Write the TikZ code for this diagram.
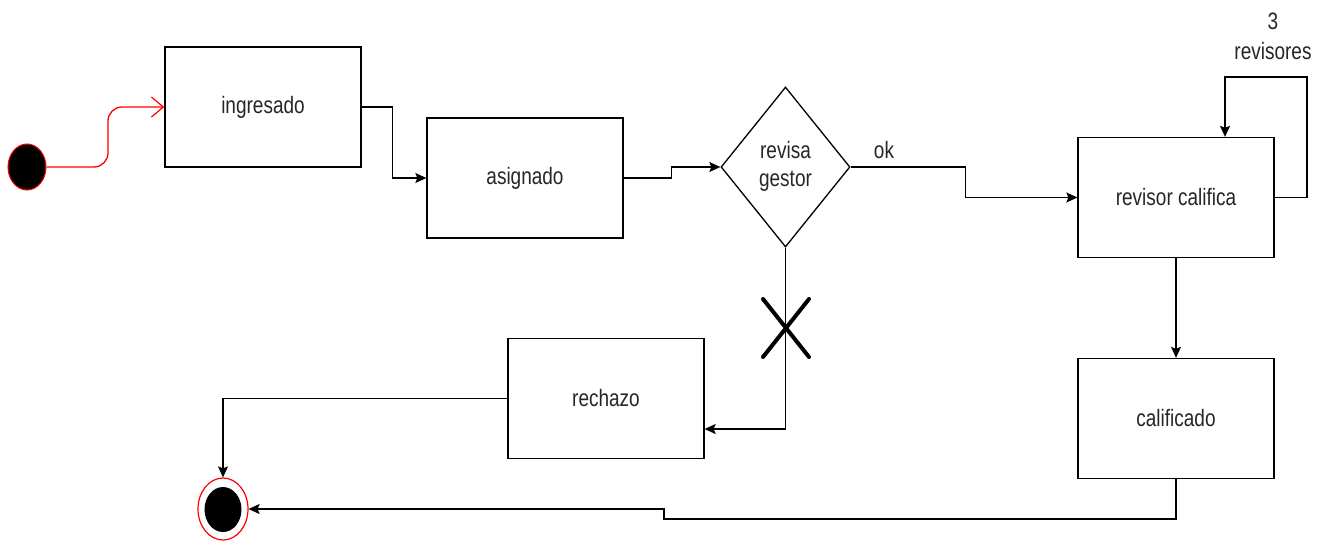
\documentclass[tikz,border=0pt]{standalone}
\usepackage{graphicx}
\usepackage{fontspec}
\setmainfont{Liberation Sans}
\usetikzlibrary{shapes.geometric,arrows.meta}
\newcommand{\vtxt}[1]{\scalebox{1}[1.25]{#1}}
\tikzset{
  statebox/.style={draw=black, line width=1.3pt, minimum width=196pt, minimum height=120pt, inner sep=0pt, text=black!85, font=\fontsize{19}{22.4}\selectfont},
  decision/.style={diamond, draw=black, line width=1.3pt, minimum width=129pt, minimum height=160pt, inner sep=0pt, text=black!85, font=\fontsize{19}{22.4}\selectfont},
  lbl/.style={text=black!85, font=\fontsize{19}{24}\selectfont, inner sep=0pt},
  arr/.style={draw=black, line width=1.3pt, -{Stealth[length=11pt,width=10pt,inset=2pt]}},
  redarr/.style={draw=red, line width=1.3pt, rounded corners=14pt, -{Straight Barb[length=12pt,width=20pt,line width=1.2pt]}},
  xmark/.style={draw=black, line width=4pt, line cap=round},
}
\begin{document}
\begin{tikzpicture}[x=1pt,y=-1pt]
\useasboundingbox (0,0) rectangle (1327,541);
% nodes
\node[ellipse, fill=black, draw=red, line width=1pt, minimum width=38pt, minimum height=46pt, inner sep=0pt] (start) at (27,167) {};
\node[statebox] (ingresado) at (263,107) {\vtxt{ingresado}};
\node[statebox] (asignado) at (525,178) {\vtxt{asignado}};
\node[decision] (gestor) at (785.5,167) {\vtxt{\begin{tabular}{@{}c@{}}revisa\\gestor\end{tabular}}};
\node[statebox] (revisor) at (1176,197.5) {\vtxt{revisor califica}};
\node[statebox] (calificado) at (1176,418.5) {\vtxt{calificado}};
\node[statebox] (rechazo) at (606,398.5) {\vtxt{rechazo}};
\node[ellipse, draw=red, line width=1.2pt, fill=white, minimum width=50pt, minimum height=62pt, inner sep=0pt] (final) at (223,509) {};
\node[ellipse, fill=black, minimum width=37pt, minimum height=45pt, inner sep=0pt] (finalin) at (223,509.5) {};
% labels
\node[lbl] (ok) at (884,150) {\vtxt{ok}};
\node[lbl] (revlbl) at (1273,38) {\vtxt{\begin{tabular}{@{}c@{}}3\\revisores\end{tabular}}};
% helper coordinates
\coordinate (loopc) at (1307,77);
\coordinate (stepc) at (664,519);
\coordinate (bendA) at (108,167);
\coordinate (bendB) at (108,107);
% connectors
\draw[redarr] (start.east) -- (bendA) -- (bendB) -- (ingresado.west);
\draw[arr] (ingresado.east) -- ++(31,0) |- (asignado.west);
\draw[arr] (asignado.east) -- ++(48,0) |- (gestor.west);
\draw[arr] (gestor.east) -- ++(115,0) |- (revisor.west);
\draw[arr] (revisor.east) -| (loopc) -| ([xshift=49pt]revisor.north);
\draw[arr] (revisor.south) -- (calificado.north);
\draw[arr] (calificado.south) |- (stepc) |- (final.east);
\draw[arr] (gestor.south) |- ([yshift=-30.5pt]rechazo.east);
\draw[arr] (rechazo.west) -| (final.north);
% X mark on rejection branch
\draw[xmark] (763,299) -- (809,357) (809,299) -- (763,357);
\end{tikzpicture}
\end{document}
